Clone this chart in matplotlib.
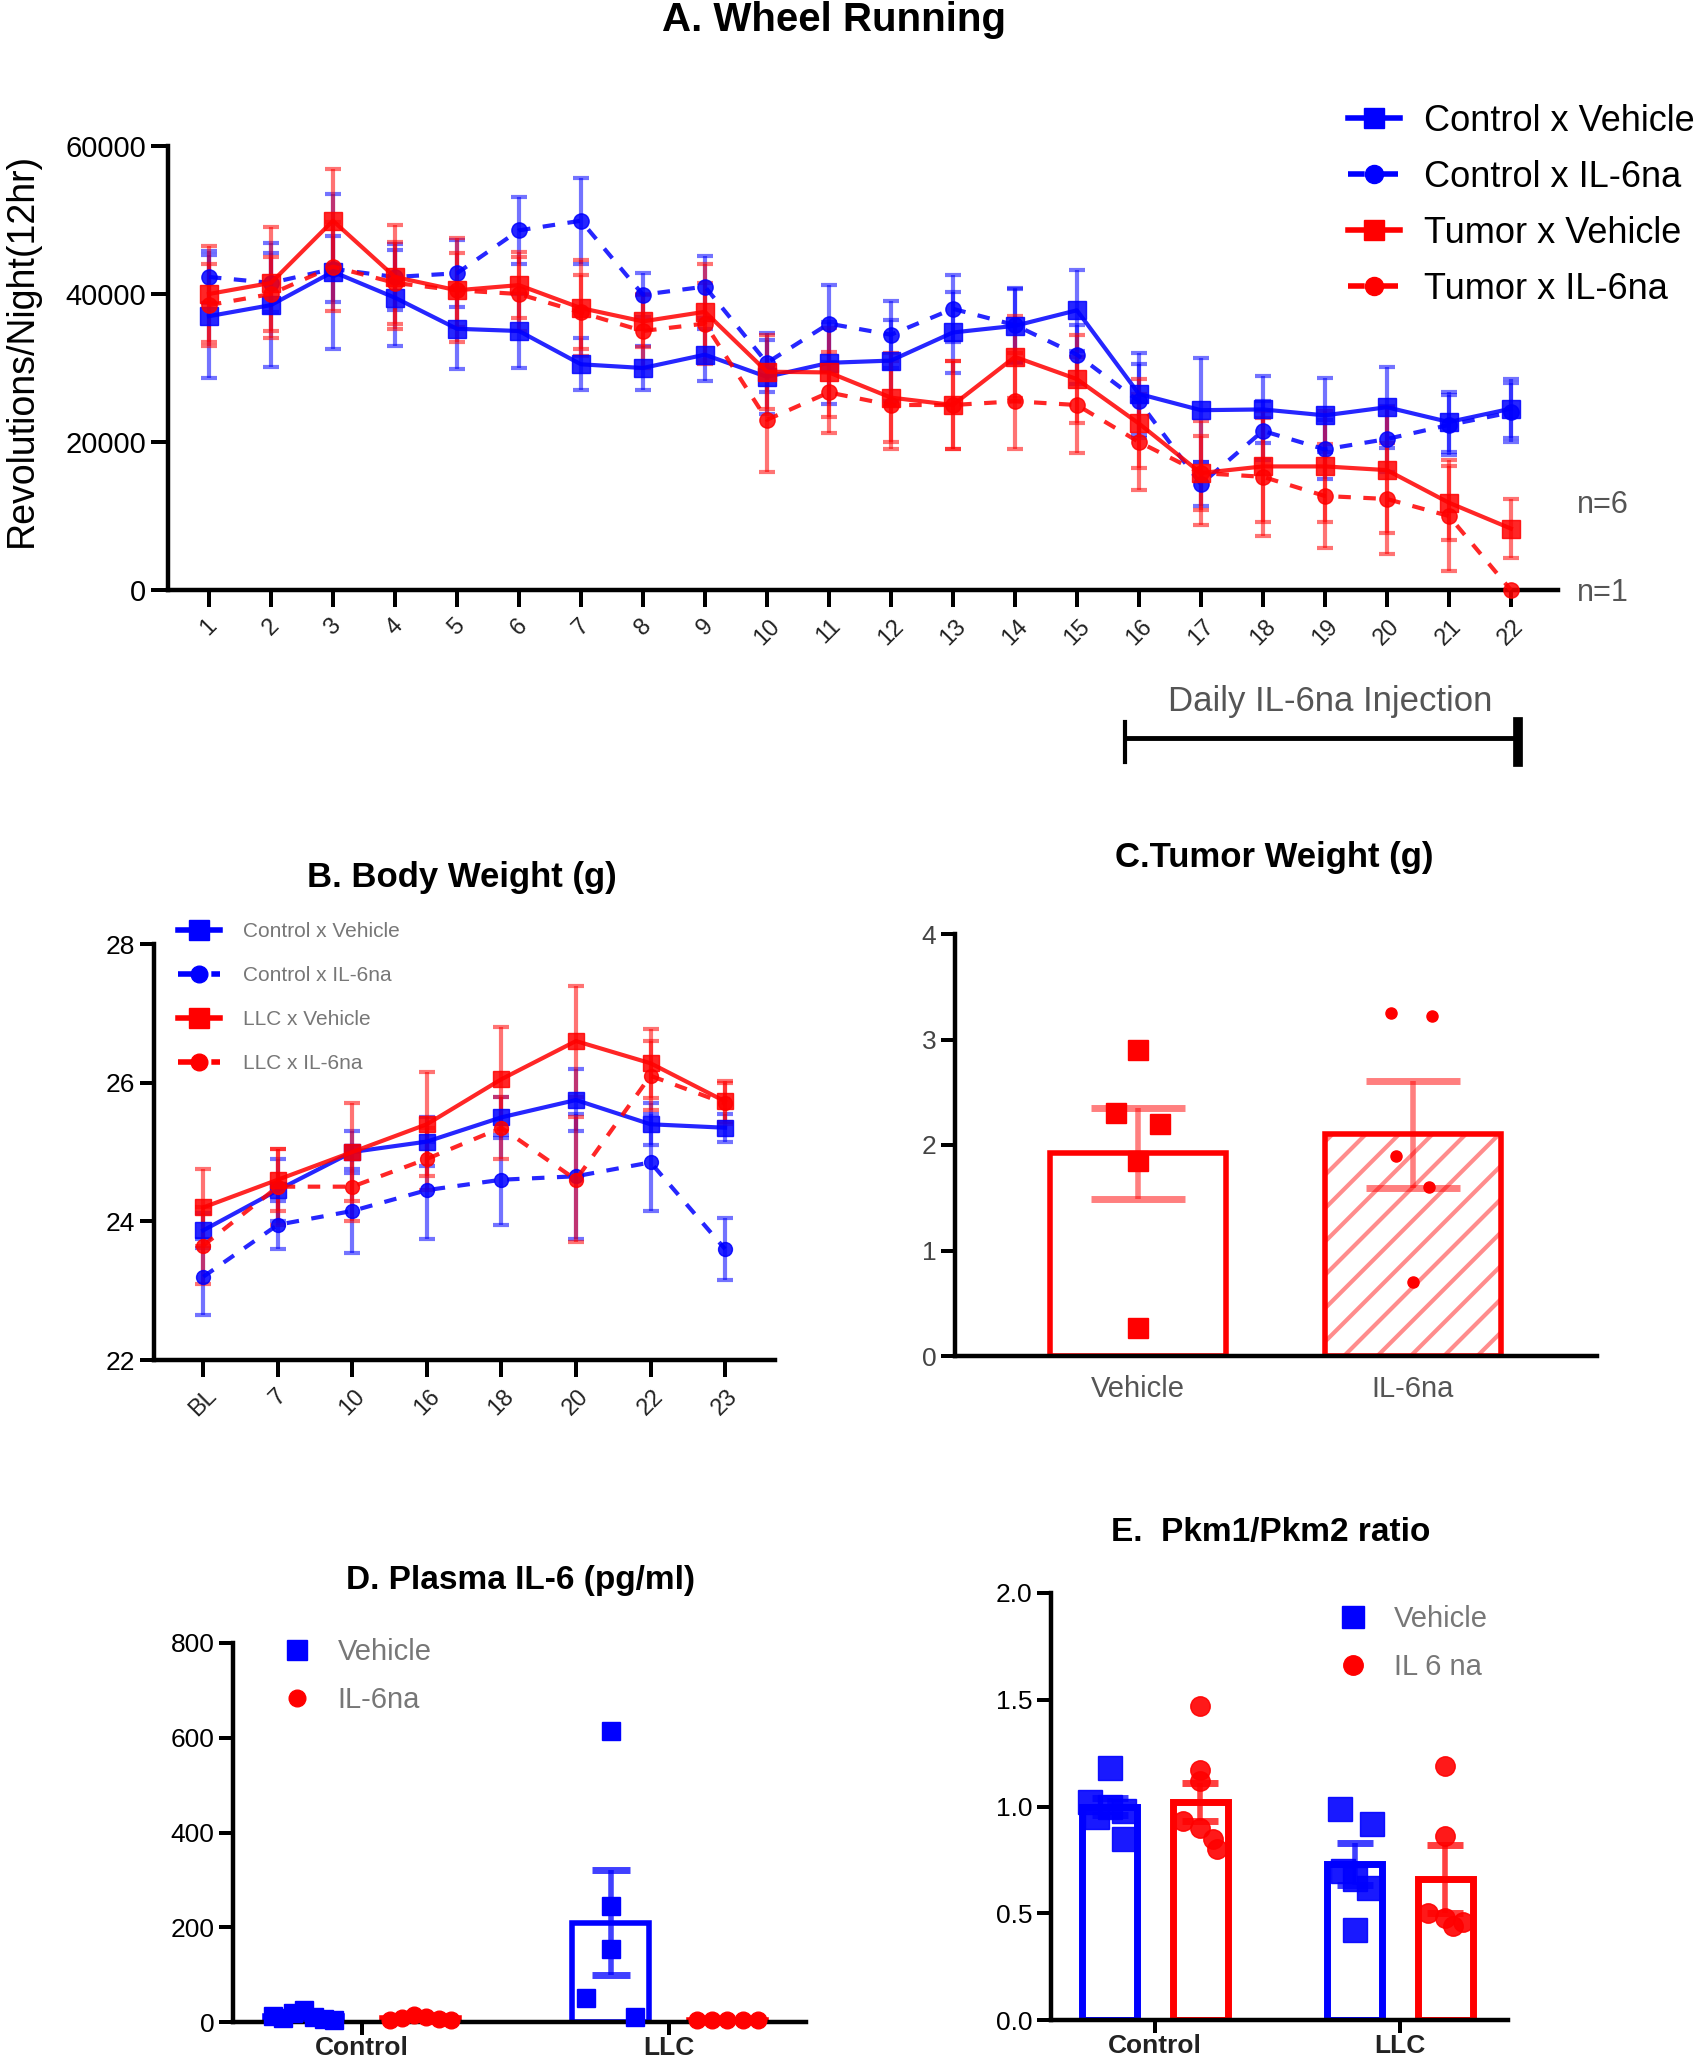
import matplotlib
matplotlib.use('Agg')
import matplotlib.pyplot as plt
import matplotlib.transforms as mtransforms
from matplotlib.lines import Line2D
import numpy as np

plt.rcParams['font.family'] = ['Liberation Sans', 'DejaVu Sans']
plt.rcParams['hatch.linewidth'] = 3.0

BLUE = '#0000FF'
RED = '#FF0000'
GREY = '#555555'

# ---------------- Data ----------------
# A. Wheel running (revolutions / night)
days = list(range(1, 23))
a_ctrl_veh = [37000, 38500, 43000, 39500, 35300, 35000, 30500, 30000, 31800, 28800, 30700,
              31000, 34800, 35700, 37800, 26500, 24300, 24400, 23600, 24700, 22700, 24500]
a_ctrl_veh_err = [8300, 8400, 10500, 6500, 5500, 5000, 3500, 3000, 3500, 5000, 5500,
                  5500, 5500, 5000, 5500, 5500, 7000, 4500, 5000, 5500, 4000, 4000]
a_ctrl_il6 = [42300, 41500, 43400, 42300, 42800, 48600, 49900, 39900, 41000, 30700, 36000,
              34500, 38000, 35800, 31800, 25500, 14300, 21500, 19000, 20400, 22300, 24000]
a_ctrl_il6_err = [3500, 4000, 4500, 4500, 4500, 4500, 5800, 3000, 4200, 4000, 5200,
                  4500, 4500, 5000, 4000, 5000, 3000, 4000, 4000, 4500, 4000, 4000]
a_tum_veh = [40000, 41500, 49900, 42300, 40500, 41200, 38100, 36300, 37600, 29500, 29400,
             26000, 25000, 31500, 28500, 22500, 15800, 16700, 16700, 16200, 11800, 8300]
a_tum_veh_err = [6500, 7500, 7000, 7000, 7000, 4500, 6500, 3500, 6500, 5000, 6000,
                 6000, 6000, 5500, 6000, 6000, 5000, 7500, 7500, 8500, 5000, 4000]
a_tum_il6 = [38500, 40000, 43700, 41500, 40500, 40000, 37500, 35000, 36000, 23000, 26700,
             25000, 25000, 25500, 25000, 20000, 15800, 15300, 12700, 12300, 10000, 0]
a_tum_il6_err = [5500, 5000, 6000, 5500, 5000, 5000, 5000, 5000, 5500, 7000, 5500,
                 6000, 6000, 6500, 6500, 6500, 7000, 8000, 7000, 7500, 7500, 0]
a_labels = ['Control x Vehicle', 'Control x IL-6na', 'Tumor x Vehicle', 'Tumor x IL-6na']

# B. Body weight (g)
b_ticks = ['BL', '7', '10', '16', '18', '20', '22', '23']
b_ctrl_veh = [23.87, 24.45, 25.0, 25.15, 25.5, 25.75, 25.4, 25.35]
b_ctrl_veh_err = [0.25, 0.45, 0.3, 0.35, 0.3, 0.45, 0.3, 0.2]
b_ctrl_il6 = [23.2, 23.95, 24.15, 24.45, 24.6, 24.65, 24.85, 23.6]
b_ctrl_il6_err = [0.55, 0.35, 0.6, 0.7, 0.65, 0.9, 0.7, 0.45]
b_llc_veh = [24.2, 24.6, 25.0, 25.4, 26.05, 26.6, 26.28, 25.73]
b_llc_veh_err = [0.55, 0.45, 0.7, 0.75, 0.75, 0.8, 0.5, 0.3]
b_llc_il6 = [23.65, 24.5, 24.5, 24.9, 25.35, 24.6, 26.1, 25.7]
b_llc_il6_err = [0.55, 0.55, 0.5, 0.45, 0.45, 0.9, 0.5, 0.3]
b_labels = ['Control x Vehicle', 'Control x IL-6na', 'LLC x Vehicle', 'LLC x IL-6na']

# C. Tumor weight (g)
c_cats = ['Vehicle', 'IL-6na']
c_means = [1.92, 2.10]
c_sem = [0.43, 0.51]
c_veh_pts = [2.9, 2.3, 2.2, 1.85, 0.27]
c_il6_pts = [3.25, 3.22, 1.9, 1.6, 0.7]

# D. Plasma IL-6 (pg/ml)
d_groups = ['Control', 'LLC']
d_veh_means = [12, 210]
d_veh_sem = [3, 110]
d_il6_means = [8, 5]
d_il6_sem = [2, 0]
d_ctrl_veh_pts = [12, 8, 18, 25, 10, 6, 5]
d_ctrl_il6_pts = [5, 8, 15, 10, 6, 5]
d_llc_veh_pts = [615, 245, 155, 50, 10]
d_llc_il6_pts = [5, 5, 5, 5, 5]

# E. Pkm1/Pkm2 ratio
e_groups = ['Control', 'LLC']
e_veh_means = [1.0, 0.73]
e_veh_sem = [0.04, 0.10]
e_il6_means = [1.02, 0.66]
e_il6_sem = [0.09, 0.16]
e_ctrl_veh_pts = [1.18, 1.02, 1.0, 0.98, 0.95, 0.85]
e_ctrl_il6_pts = [1.47, 1.17, 1.12, 0.93, 0.9, 0.85, 0.8]
e_llc_veh_pts = [0.99, 0.92, 0.7, 0.66, 0.62, 0.42]
e_llc_il6_pts = [1.19, 0.86, 0.5, 0.48, 0.46, 0.44]

# ---------------- Figure ----------------
W, H = 1704, 2070
fig = plt.figure(figsize=(W / 100, H / 100), dpi=100)


def axes_px(x0, y0, x1, y1):
    """axes from pixel box (left, top, right, bottom)"""
    return fig.add_axes([x0 / W, 1 - y1 / H, (x1 - x0) / W, (y1 - y0) / H])


def style(ax, lw=3.2):
    for s in ['top', 'right']:
        ax.spines[s].set_visible(False)
    for s in ['left', 'bottom']:
        ax.spines[s].set_linewidth(lw)
    ax.tick_params(width=lw * 0.9, length=9, colors='black')


def ftext(x, y, s, **kw):
    fig.text(x / W, 1 - y / H, s, **kw)


# ---------- Panel A ----------
axA = axes_px(168, 146, 1558, 590)
style(axA)
series_A = [
    (a_ctrl_veh, a_ctrl_veh_err, BLUE, '-', 's', 13),
    (a_ctrl_il6, a_ctrl_il6_err, BLUE, (0, (3, 3)), 'o', 11),
    (a_tum_veh, a_tum_veh_err, RED, '-', 's', 13),
    (a_tum_il6, a_tum_il6_err, RED, (0, (3, 3)), 'o', 11),
]
handlesA = []
for (vals, err, col, ls, mk, ms), lab in zip(series_A, a_labels):
    eb = axA.errorbar(days, vals, yerr=err, fmt='none', ecolor=col, elinewidth=3,
                      capsize=6, capthick=3, alpha=0.55, clip_on=False, zorder=2)
    for art in eb.get_children():
        art.set_clip_on(False)
    axA.plot(days, vals, color=col, linestyle=ls, linewidth=3, marker=mk, markersize=ms,
             alpha=0.85, clip_on=False, zorder=3)
    handlesA.append(Line2D([], [], color=col, linestyle=ls, linewidth=4, marker=mk,
                           markersize=ms + 2))
axA.set_xlim(0.34, 22.76)
axA.set_ylim(0, 60000)
axA.set_yticks([0, 20000, 40000, 60000])
axA.set_xticks(days)
axA.set_xticklabels([str(d) for d in days], rotation=45, ha='center', fontsize=17,
                    color='#222222')
axA.tick_params(axis='y', labelsize=21, length=12)
axA.tick_params(axis='x', length=12, pad=6)
fig.legend(handlesA, a_labels, loc='upper left', bbox_to_anchor=(1348 / W, 1 - 104 / H),
           frameon=False, fontsize=26, handlelength=1.45, handletextpad=0.65,
           labelspacing=0.58, borderpad=0, borderaxespad=0)
ftext(834, 20, 'A. Wheel Running', ha='center', va='center', fontsize=29, fontweight='bold')
ftext(22, 350, 'Revolutions/Night(12hr)', ha='center', va='center', rotation=90,
      fontsize=27)
ftext(1577, 505, 'n=6', ha='left', va='center', fontsize=22, color=GREY)
ftext(1577, 593, 'n=1', ha='left', va='center', fontsize=22, color=GREY)
ftext(1330, 702, 'Daily IL-6na Injection', ha='center', va='center', fontsize=25,
      color=GREY)
blend = mtransforms.blended_transform_factory(axA.transData, fig.transFigure)
br_y = 1 - 738 / H
br_top, br_bot = 1 - 722 / H, 1 - 762 / H
axA.plot([15.77, 22.11], [br_y, br_y], color='black', lw=3.5, transform=blend,
         clip_on=False)
axA.plot([15.77, 15.77], [br_top, br_bot], color='black', lw=3, transform=blend,
         clip_on=False)
axA.plot([22.11, 22.11], [br_top, br_bot], color='black', lw=7, transform=blend,
         clip_on=False)

# ---------- Panel B ----------
axB = axes_px(154, 944, 775, 1360)
style(axB)
xb = np.arange(len(b_ticks))
series_B = [
    (b_ctrl_veh, b_ctrl_veh_err, BLUE, '-', 's', 12),
    (b_ctrl_il6, b_ctrl_il6_err, BLUE, (0, (3, 3)), 'o', 10),
    (b_llc_veh, b_llc_veh_err, RED, '-', 's', 12),
    (b_llc_il6, b_llc_il6_err, RED, (0, (3, 3)), 'o', 10),
]
handlesB = []
for vals, err, col, ls, mk, ms in series_B:
    axB.errorbar(xb, vals, yerr=err, fmt='none', ecolor=col, elinewidth=3, capsize=6,
                 capthick=3, alpha=0.55, zorder=2)
    axB.plot(xb, vals, color=col, linestyle=ls, linewidth=3, marker=mk, markersize=ms,
             alpha=0.85, zorder=3)
    handlesB.append(Line2D([], [], color=col, linestyle=ls, linewidth=4, marker=mk,
                           markersize=ms + 2))
axB.set_xlim(-0.66, 7.67)
axB.set_ylim(22, 28)
axB.set_yticks([22, 24, 26, 28])
axB.set_xticks(xb)
axB.set_xticklabels(b_ticks, rotation=45, ha='center', fontsize=17, color='#222222')
axB.tick_params(axis='y', labelsize=19, length=10)
axB.tick_params(axis='x', length=12, pad=6)
fig.legend(handlesB, b_labels, loc='upper left', bbox_to_anchor=(178 / W, 1 - 922 / H),
           frameon=False, fontsize=15, handlelength=2.0, handletextpad=1.1,
           labelspacing=1.2, borderpad=0, borderaxespad=0, labelcolor='#777777')
ftext(462, 877, 'B. Body Weight (g)', ha='center', va='center', fontsize=25,
      fontweight='bold')

# ---------- Panel C ----------
axC = axes_px(955, 934, 1597, 1356)
style(axC)
xc = np.arange(len(c_cats))
axC.bar(xc[1], c_means[1], width=0.64, facecolor='white', edgecolor='#FF8C8C',
        hatch='/', linewidth=0, zorder=1)
axC.bar(xc, c_means, width=0.64, facecolor='none', edgecolor=RED, linewidth=4, zorder=2)
axC.errorbar(xc, c_means, yerr=c_sem, fmt='none', ecolor=RED, elinewidth=4, capsize=34,
             capthick=5, alpha=0.5, zorder=3)
c_veh_off = [0.0, -0.08, 0.08, 0.0, 0.0]
c_il6_off = [-0.08, 0.07, -0.06, 0.06, 0.0]
axC.plot(xc[0] + np.array(c_veh_off), c_veh_pts, 's', color=RED, markersize=14, zorder=4,
         linestyle='none')
axC.plot(xc[1] + np.array(c_il6_off), c_il6_pts, 'o', color=RED, markersize=8, zorder=4,
         linestyle='none')
axC.set_xlim(-0.665, 1.67)
axC.set_ylim(0, 4)
axC.set_yticks([0, 1, 2, 3, 4])
axC.set_xticks(xc)
axC.set_xticklabels(c_cats, fontsize=21, color='#555555')
axC.tick_params(axis='x', length=0, pad=14)
axC.tick_params(axis='y', labelsize=19, length=10, labelcolor='#444444')
ftext(1274, 858, 'C.Tumor Weight (g)', ha='center', va='center', fontsize=25,
      fontweight='bold')

# ---------- Panel D ----------
axD = axes_px(233, 1643, 806, 2022)
style(axD)
xd = np.arange(len(d_groups))
off, bw = 0.19, 0.25
axD.bar(xd - off, d_veh_means, width=bw, facecolor='none', edgecolor=BLUE, linewidth=4,
        zorder=2)
axD.bar(xd + off, d_il6_means, width=bw, facecolor='none', edgecolor=RED, linewidth=4,
        zorder=2)
axD.errorbar(xd - off, d_veh_means, yerr=d_veh_sem, fmt='none', ecolor=BLUE,
             elinewidth=4, capsize=14, capthick=5, alpha=0.75, zorder=3)
axD.errorbar(xd + off, d_il6_means, yerr=d_il6_sem, fmt='none', ecolor=RED,
             elinewidth=4, capsize=14, capthick=5, alpha=0.75, zorder=3)
axD.plot(xd[0] - off + np.linspace(-0.1, 0.1, len(d_ctrl_veh_pts)), d_ctrl_veh_pts, 's',
         color=BLUE, markersize=13, zorder=4, clip_on=False)
axD.plot(xd[0] + off + np.linspace(-0.1, 0.1, len(d_ctrl_il6_pts)), d_ctrl_il6_pts, 'o',
         color=RED, markersize=12, zorder=4, clip_on=False)
d_llc_veh_off = [0.0, 0.0, 0.0, -0.08, 0.08]
axD.plot(xd[1] - off + np.array(d_llc_veh_off), d_llc_veh_pts, 's', color=BLUE,
         markersize=13, zorder=4, clip_on=False)
axD.plot(xd[1] + off + np.linspace(-0.1, 0.1, len(d_llc_il6_pts)), d_llc_il6_pts, 'o',
         color=RED, markersize=12, zorder=4, clip_on=False)
axD.set_xlim(-0.42, 1.446)
axD.set_ylim(0, 800)
axD.set_yticks([0, 200, 400, 600, 800])
axD.set_xticks(xd)
axD.set_xticklabels(d_groups, fontsize=19, fontweight='bold', color='#222222')
axD.tick_params(axis='y', labelsize=19, length=10)
axD.tick_params(axis='x', length=9, pad=1)
hD = [Line2D([], [], color=BLUE, marker='s', linestyle='none', markersize=14),
      Line2D([], [], color=RED, marker='o', linestyle='none', markersize=12)]
fig.legend(hD, ['Vehicle', 'IL-6na'], loc='upper left', bbox_to_anchor=(285 / W, 1 - 1638 / H),
           frameon=False, fontsize=21, handlelength=0.8, handletextpad=1.0,
           labelspacing=0.7, borderpad=0, borderaxespad=0, labelcolor='#777777')
ftext(520, 1580, 'D. Plasma IL-6 (pg/ml)', ha='center', va='center', fontsize=24,
      fontweight='bold')

# ---------- Panel E ----------
axE = axes_px(1051, 1593, 1508, 2020)
style(axE)
xe = np.arange(len(e_groups))
off, bw = 0.185, 0.225
axE.errorbar(xe - off, e_veh_means, yerr=e_veh_sem, fmt='none', ecolor=BLUE,
             elinewidth=4, capsize=13, capthick=5, alpha=0.75, zorder=3)
axE.errorbar(xe + off, e_il6_means, yerr=e_il6_sem, fmt='none', ecolor=RED,
             elinewidth=4, capsize=13, capthick=5, alpha=0.75, zorder=3)
axE.bar(xe - off, e_veh_means, width=bw, facecolor='none', edgecolor=BLUE, linewidth=5,
        zorder=2)
axE.bar(xe + off, e_il6_means, width=bw, facecolor='none', edgecolor=RED, linewidth=5,
        zorder=2)
e_cv_off = [0.0, -0.08, 0.0, 0.06, -0.05, 0.06]
e_ci_off = [0.0, 0.0, 0.0, -0.07, 0.0, 0.05, 0.07]
e_lv_off = [-0.06, 0.07, -0.05, 0.0, 0.06, 0.0]
e_li_off = [0.0, 0.0, -0.07, 0.0, 0.07, 0.03]
axE.plot(xe[0] - off + np.array(e_cv_off), e_ctrl_veh_pts, 's', color=BLUE, markersize=17,
         zorder=4, alpha=0.9)
axE.plot(xe[0] + off + np.array(e_ci_off), e_ctrl_il6_pts, 'o', color=RED, markersize=14,
         zorder=4, alpha=0.9)
axE.plot(xe[1] - off + np.array(e_lv_off), e_llc_veh_pts, 's', color=BLUE, markersize=17,
         zorder=4, alpha=0.9)
axE.plot(xe[1] + off + np.array(e_li_off), e_llc_il6_pts, 'o', color=RED, markersize=14,
         zorder=4, alpha=0.9)
axE.set_xlim(-0.424, 1.44)
axE.set_ylim(0, 2.0)
axE.set_yticks([0, 0.5, 1.0, 1.5, 2.0])
axE.set_yticklabels(['0.0', '0.5', '1.0', '1.5', '2.0'])
axE.set_xticks(xe)
axE.set_xticklabels(e_groups, fontsize=19, fontweight='bold', color='#222222')
axE.tick_params(axis='y', labelsize=19, length=10)
axE.tick_params(axis='x', length=9, pad=1)
hE = [Line2D([], [], color=BLUE, marker='s', linestyle='none', markersize=16),
      Line2D([], [], color=RED, marker='o', linestyle='none', markersize=14)]
fig.legend(hE, ['Vehicle', 'IL 6 na'], loc='upper left', bbox_to_anchor=(1341 / W, 1 - 1605 / H),
           frameon=False, fontsize=21, handlelength=0.8, handletextpad=1.0,
           labelspacing=0.7, borderpad=0, borderaxespad=0, labelcolor='#777777')
ftext(1271, 1533, 'E.  Pkm1/Pkm2 ratio', ha='center', va='center', fontsize=24,
      fontweight='bold')

fig.savefig('out.png', dpi=100)
